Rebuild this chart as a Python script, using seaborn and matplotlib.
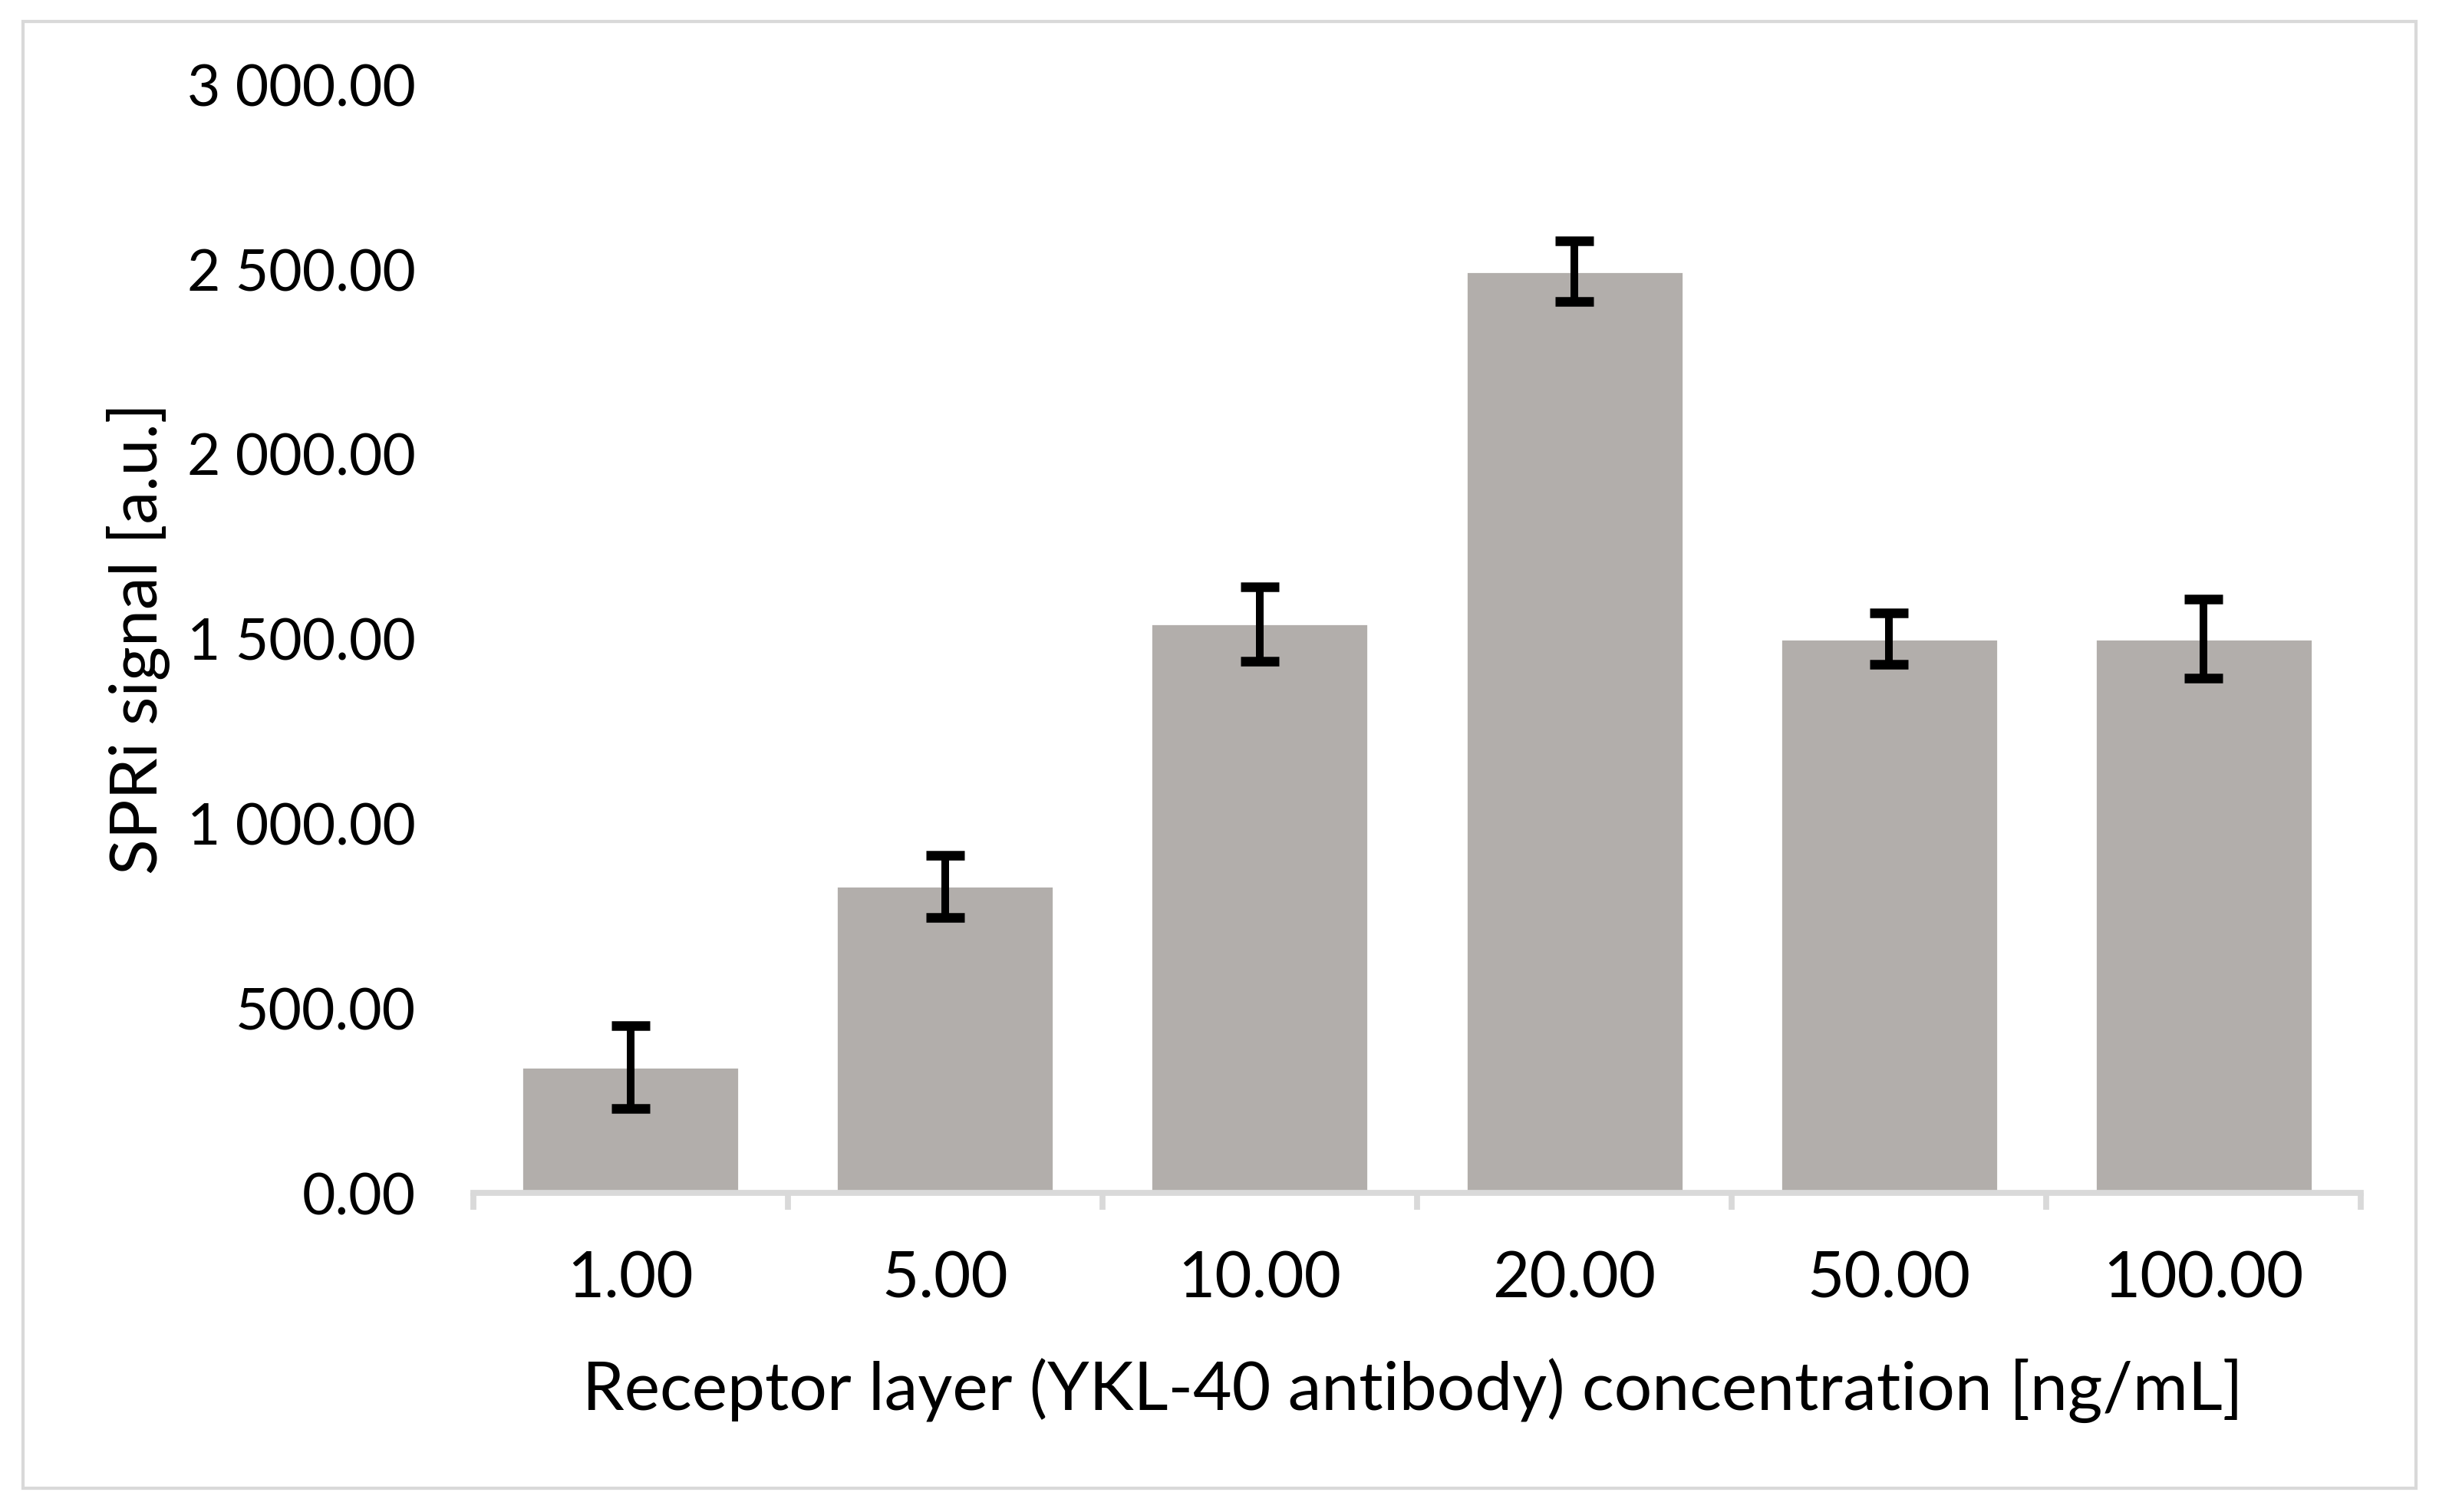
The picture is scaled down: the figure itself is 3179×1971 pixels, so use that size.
import matplotlib
matplotlib.use('Agg')
import matplotlib.pyplot as plt
import seaborn as sns
import pandas as pd
from matplotlib.patches import Rectangle
from matplotlib.ticker import FuncFormatter

# data
concentration = ['1.00', '5.00', '10.00', '20.00', '50.00', '100.00']
signal = [340, 830, 1540, 2495, 1500, 1500]
signal_err = [112, 84, 100, 82, 70, 107]

df = pd.DataFrame({'concentration': concentration, 'signal': signal})

sns.set_theme(style='white')
plt.rcParams['font.family'] = ['Lato', 'DejaVu Sans']

fig = plt.figure(figsize=(15.895, 9.855), dpi=200)
ax = fig.add_axes([0.194, 0.211, 0.774, 0.733])

sns.barplot(data=df, x='concentration', y='signal', color='#B2AEAB',
            width=0.69, saturation=1, ax=ax)
ax.errorbar(range(len(concentration)), signal, yerr=signal_err, fmt='none',
            ecolor='black', elinewidth=3.6, capsize=9, capthick=4.5)

ax.set_xlim(-0.5, len(concentration) - 0.5)
ax.set_ylim(0, 3000)
ax.set_yticks([0, 500, 1000, 1500, 2000, 2500, 3000])
ax.yaxis.set_major_formatter(FuncFormatter(lambda v, p: f'{v:,.2f}'.replace(',', ' ')))

# axis styling
for s in ['left', 'top', 'right']:
    ax.spines[s].set_visible(False)
ax.spines['bottom'].set_color('#D9D9D9')
ax.spines['bottom'].set_linewidth(2.8)

ax.set_xticks([i - 0.5 for i in range(len(concentration) + 1)], minor=True)
ax.tick_params(axis='x', which='major', bottom=False, length=0, pad=27, labelsize=30, colors='black')
ax.tick_params(axis='x', which='minor', bottom=True, length=8, width=2.8, color='#D9D9D9', direction='out')
ax.tick_params(axis='y', left=False, length=0, pad=27, labelsize=27, colors='black')

ax.set_xlabel('Receptor layer (YKL-40 antibody) concentration [ng/mL]', fontsize=31.5, color='black')
ax.set_ylabel('SPRi signal [a.u.]', fontsize=31, color='black')
ax.xaxis.set_label_coords(0.4976, -0.149)
ax.yaxis.set_label_coords(-0.161, 0.5)

# outer light border
fig.patches.append(Rectangle((0.0094, 0.0157), 0.9812, 0.970, fill=False,
                             edgecolor='#D9D9D9', linewidth=1.5,
                             transform=fig.transFigure, figure=fig))

plt.savefig('out.png', dpi=200)
